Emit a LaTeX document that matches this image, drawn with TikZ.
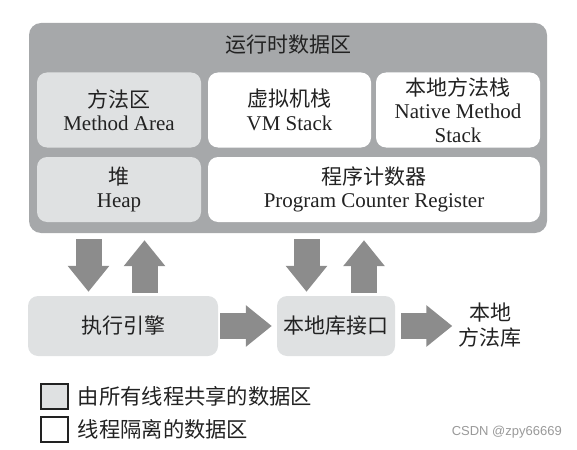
\documentclass[tikz,border=0pt]{standalone}
\usepackage{fontspec}
\setmainfont{Liberation Serif}
\newfontfamily\cjk{Noto Sans CJK SC}
\newfontfamily\markfont{Liberation Sans}
\usetikzlibrary{arrows.meta,positioning}
\definecolor{runtimegray}{HTML}{A6A8AA}
\definecolor{sharedgray}{HTML}{DFE1E2}
\definecolor{arrowgray}{HTML}{8C8C8C}
\definecolor{inkblack}{HTML}{222222}
\tikzset{
    shared/.style={fill=sharedgray, rounded corners=10pt, align=center, inner sep=0pt, text=inkblack, font=\fontsize{21}{23.5}\selectfont},
    private/.style={shared, fill=white},
    bigarrow/.style={draw=arrowgray, line width=26pt, -{Triangle[width=40pt,length=26pt]}},
    legendbox/.style={draw=inkblack, line width=1.2pt, minimum width=27pt, minimum height=25pt, inner sep=0pt},
    legendtext/.style={inner sep=0pt, text=inkblack, font=\cjk\fontsize{21.3}{24}\selectfont}
}
\begin{document}
\begin{tikzpicture}[x=1pt,y=-1pt]
    \useasboundingbox (0,0) rectangle (577,449);
    \node[fill=runtimegray, rounded corners=12pt, minimum width=518pt, minimum height=210pt] (runtime) at (288,128) {};
    \node[text=inkblack, inner sep=0pt, font=\cjk\fontsize{21}{23.5}\selectfont] (title) at (288,45) {运行时数据区};
    \node[shared, minimum width=164pt, minimum height=75pt] (method) at (119,110) {{\cjk 方法区}\\Method Area};
    \node[private, minimum width=163pt, minimum height=75pt] (vmstack) at (289.5,110) {{\cjk 虚拟机栈}\\VM Stack};
    \node[private, minimum width=164pt, minimum height=75pt] (native) at (458,110) {{\cjk 本地方法栈}\\Native Method\\Stack};
    \node[shared, minimum width=164pt, minimum height=65pt] (heap) at (119,189.5) {{\cjk 堆}\\Heap};
    \node[private, minimum width=332pt, minimum height=65pt] (pc) at (374,189.5) {{\cjk 程序计数器}\\Program Counter Register};

    \node[shared, font=\cjk\fontsize{21}{23.5}\selectfont, minimum width=190pt, minimum height=60pt] (engine) at (123,326) {执行引擎};
    \node[shared, font=\cjk\fontsize{21}{23.5}\selectfont, minimum width=118pt, minimum height=60pt] (nativeif) at (336,326) {本地库接口};
    \node[align=center, inner sep=0pt, text=inkblack, font=\cjk\fontsize{21}{25}\selectfont] (nativelib) at (490,325) {本地\\方法库};

    \draw[bigarrow, shorten <=6pt, shorten >=4pt] (88.5,0 |- runtime.south) -- (88.5,0 |- engine.north);
    \draw[bigarrow, shorten <=3pt, shorten >=7pt] (144.5,0 |- engine.north) -- (144.5,0 |- runtime.south);
    \draw[bigarrow, shorten <=6pt, shorten >=4pt] (306.5,0 |- runtime.south) -- (306.5,0 |- nativeif.north);
    \draw[bigarrow, shorten <=3pt, shorten >=7pt] (364,0 |- nativeif.north) -- (364,0 |- runtime.south);
    \draw[bigarrow, shorten <=2pt, shorten >=5pt] (engine) -- (nativeif);
    \draw[bigarrow, shorten <=6pt, shorten >=6pt] (nativeif.east) -- (nativeif.east -| nativelib.west);

    \node[legendbox, fill=sharedgray] (sharedkey) at (54.5,396.5) {};
    \node[legendbox, fill=white] (privatekey) at (54.5,429.5) {};
    \node[legendtext, right=9pt of sharedkey] (sharedlabel) {由所有线程共享的数据区};
    \node[legendtext, right=9pt of privatekey] (privatelabel) {线程隔离的数据区};

    \node[anchor=east, inner sep=0pt, text=black!40, font=\markfont\fontsize{13}{15}\selectfont] (watermark) at (562,432) {CSDN @zpy66669};
\end{tikzpicture}
\end{document}
